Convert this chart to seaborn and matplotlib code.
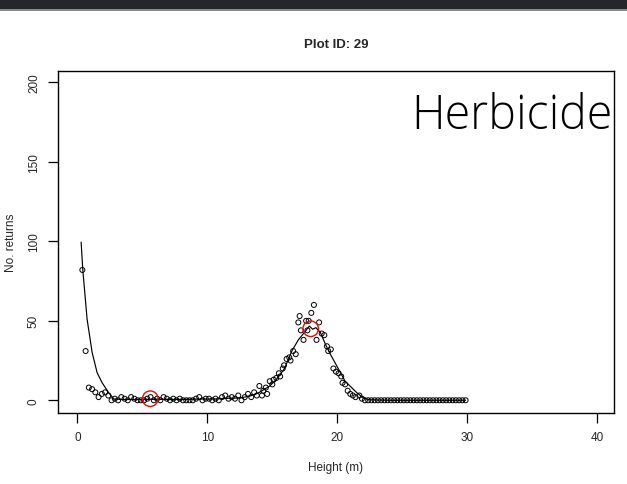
import numpy as np
import pandas as pd
import matplotlib
matplotlib.use("Agg")
import matplotlib.pyplot as plt
import seaborn as sns
from matplotlib.patches import Rectangle

# ---- data ----
height_m = [0.375, 0.625, 0.875, 1.125, 1.375, 1.625, 1.875, 2.125, 2.375, 2.625,
            2.875, 3.125, 3.375, 3.625, 3.875, 4.125, 4.375, 4.625, 4.875, 5.125,
            5.375, 5.625, 5.875, 6.125, 6.375, 6.625, 6.875, 7.125, 7.375, 7.625,
            7.875, 8.125, 8.375, 8.625, 8.875, 9.125, 9.375, 9.625, 9.875, 10.125,
            10.375, 10.625, 10.875, 11.125, 11.375, 11.625, 11.875, 12.125, 12.375, 12.625,
            12.875, 13.125, 13.375, 13.6, 13.8, 14.0, 14.2, 14.3, 14.5, 14.6,
            14.8, 15.0, 15.1, 15.3, 15.5, 15.6, 15.8, 15.9, 16.1, 16.3,
            16.4, 16.6, 16.8, 17.0, 17.1, 17.2, 17.4, 17.6, 17.7, 17.8,
            18.0, 18.2, 18.4, 18.6, 18.8, 19.0, 19.2, 19.3, 19.5, 19.7,
            19.9, 20.1, 20.3, 20.4, 20.6, 20.8, 21.0, 21.2, 21.4, 21.7,
            21.9, 22.125, 22.375, 22.625, 22.875, 23.125, 23.375, 23.625, 23.875, 24.125,
            24.375, 24.625, 24.875, 25.125, 25.375, 25.625, 25.875, 26.125, 26.375, 26.625,
            26.875, 27.125, 27.375, 27.625, 27.875, 28.125, 28.375, 28.625, 28.875, 29.125,
            29.375, 29.625, 29.875]
returns = [82, 31, 8, 7, 5, 2, 4, 5, 3, 0,
           1, 0, 2, 1, 0, 2, 1, 0, 0, 0,
           1, 2, 0, 1, 0, 2, 1, 0, 1, 0,
           1, 0, 0, 0, 0, 1, 2, 0, 1, 1,
           0, 1, 0, 2, 3, 1, 2, 1, 3, 0,
           2, 4, 2, 5, 3, 9, 3, 6, 8, 4,
           12, 10, 13, 14, 17, 15, 20, 22, 26, 27,
           25, 31, 29, 49, 53, 44, 38, 50, 44, 50,
           55, 60, 38, 49, 42, 41, 34, 31, 32, 20,
           18, 17, 15, 11, 10, 6, 4, 3, 2, 3,
           1, 0, 0, 0, 0, 0, 0, 0, 0, 0,
           0, 0, 0, 0, 0, 0, 0, 0, 0, 0,
           0, 0, 0, 0, 0, 0, 0, 0, 0, 0,
           0, 0, 0]

curve_x = [0.28, 0.41, 0.74, 1.13, 1.51, 1.9, 2.4, 2.8, 3.5, 4.5, 5.5, 6.5, 7.5,
           8.5, 9.5, 10.5, 11.5, 12.5, 13.0, 13.5, 14.0, 14.8, 15.3, 15.9, 16.2,
           16.5, 17.0, 17.5, 17.85, 18.1, 18.35, 18.7, 19.1, 19.4, 20.1, 20.6,
           21.5, 22.0, 22.5, 24.0, 26.0, 28.0, 29.875]
curve_y = [99.5, 82, 51, 30, 17.4, 11, 4.8, 0.8, 0.5, 0.5, 0.6, 0.6, 0.5,
           0.6, 0.8, 0.8, 1.2, 1.5, 2.2, 3.2, 5, 9, 13, 19.5, 25,
           31, 38, 43, 46.7, 44.7, 45.7, 42.6, 35, 30, 19.5, 12,
           4.8, 1.5, 0.3, 0, 0, 0, 0]

marker_x = [5.6, 17.95]
marker_y = [1, 45]

title_text = "Plot ID: 29"
label_text = "Herbicide"
x_ticks = [0, 10, 20, 30, 40]
y_ticks = [0, 50, 100, 150, 200]

pts = pd.DataFrame({"Height": height_m, "Returns": returns})
crv = pd.DataFrame({"Height": curve_x, "Returns": curve_y})
mk = pd.DataFrame({"Height": marker_x, "Returns": marker_y})

sns.set_style("white")
plt.rcParams["font.family"] = ["Liberation Sans", "DejaVu Sans"]

fig = plt.figure(figsize=(6.27, 4.85), dpi=100)
fig.patch.set_facecolor("white")
# dark window strip at the top of the screenshot
fig.patches.append(Rectangle((0, 1 - 10 / 485), 1, 10 / 485, transform=fig.transFigure,
                             facecolor="#23272b", edgecolor="none", zorder=0))
fig.patches.append(Rectangle((0, 1 - 12 / 485), 1, 2 / 485, transform=fig.transFigure,
                             facecolor="#8a8a8a", edgecolor="none", zorder=0))

ax = fig.add_axes([58 / 627, 1 - 414 / 485, (614 - 58) / 627, (414 - 71.5) / 485])

sns.lineplot(data=crv, x="Height", y="Returns", ax=ax, color="black", lw=0.85,
             sort=False, estimator=None)
sns.scatterplot(data=pts, x="Height", y="Returns", ax=ax, marker="o", s=13,
                facecolors="none", edgecolor="black", linewidth=0.7)
sns.scatterplot(data=mk, x="Height", y="Returns", ax=ax, marker="o", s=125,
                facecolors="none", edgecolor="red", linewidth=1.0, zorder=5)

ax.set_xlim(-1.5, 41.3)
ax.set_ylim(-8, 207.5)
ax.set_xticks(x_ticks)
ax.set_yticks(y_ticks)
ax.set_xticklabels([str(v) for v in x_ticks])
ax.set_yticklabels([str(v) for v in y_ticks], rotation=90, va="center")
ax.tick_params(axis="both", direction="out", length=7, width=0.9, color="black",
               labelsize=8.5, pad=6, bottom=True, left=True)
for s in ax.spines.values():
    s.set_color("black")
    s.set_linewidth(1.0)

ax.set_xlabel("Height (m)", fontsize=8.5, labelpad=13)
ax.set_ylabel("No. returns", fontsize=8.5, labelpad=8)
ax.set_title(title_text, fontsize=9.5, fontweight="bold", pad=17)

ax.text(0.997, 0.833, label_text, transform=ax.transAxes, ha="right", va="baseline",
        fontsize=33.5, fontweight="light", family=["Open Sans", "DejaVu Sans"], color="black")

fig.savefig("out.png", dpi=100)
